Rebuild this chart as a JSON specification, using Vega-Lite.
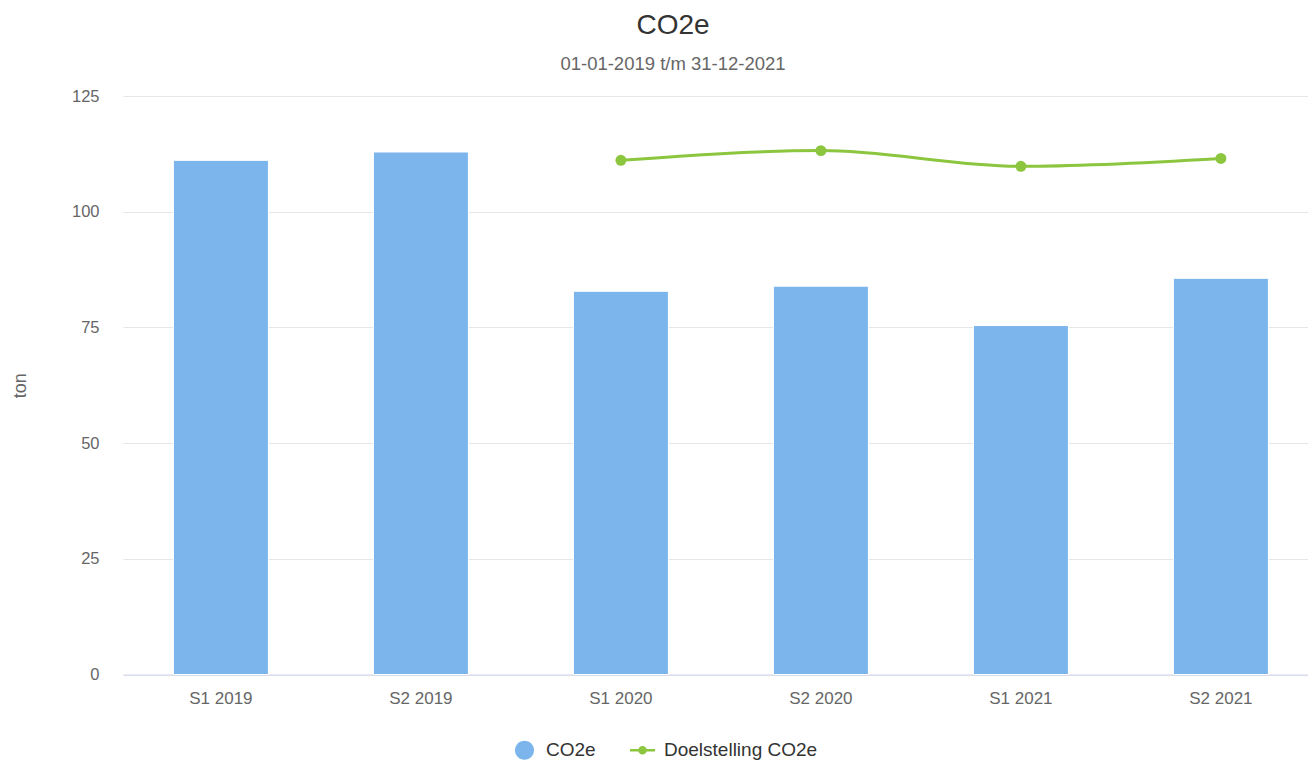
{
  "$schema": "https://vega.github.io/schema/vega-lite/v6.json",
  "autosize": {"type": "none"},
  "padding": {"left": 123, "top": 96, "right": 0, "bottom": 87.5},
  "width": 1185,
  "height": 578.5,
  "background": "#ffffff",
  "config": {
    "font": "Liberation Sans",
    "view": {"stroke": null}
  },
  "title": {
    "text": "CO2e",
    "subtitle": "01-01-2019 t/m 31-12-2021",
    "anchor": "middle",
    "frame": "group",
    "dx": -42.5,
    "fontSize": 28,
    "fontWeight": "normal",
    "color": "#333333",
    "subtitleFontSize": 18.5,
    "subtitleColor": "#666666",
    "subtitlePadding": 15,
    "offset": 15
  },
  "data": {
    "values": [
      {"periode": "S1 2019", "serie": "CO2e", "waarde": 111.1},
      {"periode": "S2 2019", "serie": "CO2e", "waarde": 112.9},
      {"periode": "S1 2020", "serie": "CO2e", "waarde": 82.8},
      {"periode": "S2 2020", "serie": "CO2e", "waarde": 83.9},
      {"periode": "S1 2021", "serie": "CO2e", "waarde": 75.4},
      {"periode": "S2 2021", "serie": "CO2e", "waarde": 85.6},
      {"periode": "S1 2020", "serie": "Doelstelling CO2e", "waarde": 111.1},
      {"periode": "S2 2020", "serie": "Doelstelling CO2e", "waarde": 113.2},
      {"periode": "S1 2021", "serie": "Doelstelling CO2e", "waarde": 109.8},
      {"periode": "S2 2021", "serie": "Doelstelling CO2e", "waarde": 111.5}
    ]
  },
  "encoding": {
    "x": {
      "field": "periode",
      "type": "nominal",
      "sort": ["S1 2019", "S2 2019", "S1 2020", "S2 2020", "S1 2021", "S2 2021"],
      "scale": {
        "domain": ["S1 2019", "S2 2019", "S1 2020", "S2 2020", "S1 2021", "S2 2021"],
        "paddingInner": 0.525,
        "paddingOuter": 0.225,
        "align": 0.56
      },
      "axis": {
        "title": null,
        "labelAngle": 0,
        "labelFontSize": 17,
        "labelColor": "#666666",
        "labelPadding": 16,
        "ticks": false,
        "domainColor": "#ccd6eb",
        "domainWidth": 1,
        "grid": false
      }
    },
    "y": {
      "field": "waarde",
      "type": "quantitative",
      "scale": {"domain": [0, 125], "nice": false},
      "axis": {
        "title": "ton",
        "titleFontSize": 18,
        "titleFontWeight": "normal",
        "titleColor": "#666666",
        "titlePadding": 42,
        "values": [0, 25, 50, 75, 100, 125],
        "labelFontSize": 16.5,
        "labelColor": "#666666",
        "labelPadding": 24,
        "ticks": false,
        "domain": false,
        "gridColor": "#e6e6e6",
        "gridWidth": 1
      }
    },
    "color": {
      "field": "serie",
      "type": "nominal",
      "scale": {
        "domain": ["CO2e", "Doelstelling CO2e"],
        "range": ["#7cb5ec", "#8cc63e"]
      },
      "legend": {
        "title": null,
        "orient": "none",
        "direction": "horizontal",
        "legendX": 389,
        "legendY": 641.5,
        "padding": 0,
        "labelFontSize": 19,
        "labelColor": "#333333",
        "labelOffset": 9,
        "columnPadding": 34,
        "symbolSize": 625,
        "symbolStrokeWidth": 0,
        "encode": {
          "symbols": {
            "update": {
              "shape": {"signal": "datum.value === 'CO2e' ? 'M-0.76,0A0.76,0.76 0 1,1 0.76,0A0.76,0.76 0 1,1 -0.76,0Z' : 'M-1,-0.1H1V0.1H-1Z M-0.34,0A0.34,0.34 0 1,1 0.34,0A0.34,0.34 0 1,1 -0.34,0Z'"},
              "fill": {"scale": "color", "field": "value"},
              "stroke": {"value": "transparent"},
              "strokeWidth": {"value": 0},
              "opacity": {"value": 1}
            }
          }
        }
      }
    }
  },
  "layer": [
    {
      "transform": [{"filter": "datum.serie === 'CO2e'"}],
      "mark": {"type": "bar", "stroke": "#ffffff", "strokeWidth": 1}
    },
    {
      "transform": [{"filter": "datum.serie === 'Doelstelling CO2e'"}],
      "mark": {"type": "line", "strokeWidth": 3, "interpolate": "monotone"}
    },
    {
      "transform": [{"filter": "datum.serie === 'Doelstelling CO2e'"}],
      "mark": {"type": "point", "filled": true, "size": 120, "opacity": 1}
    }
  ]
}
